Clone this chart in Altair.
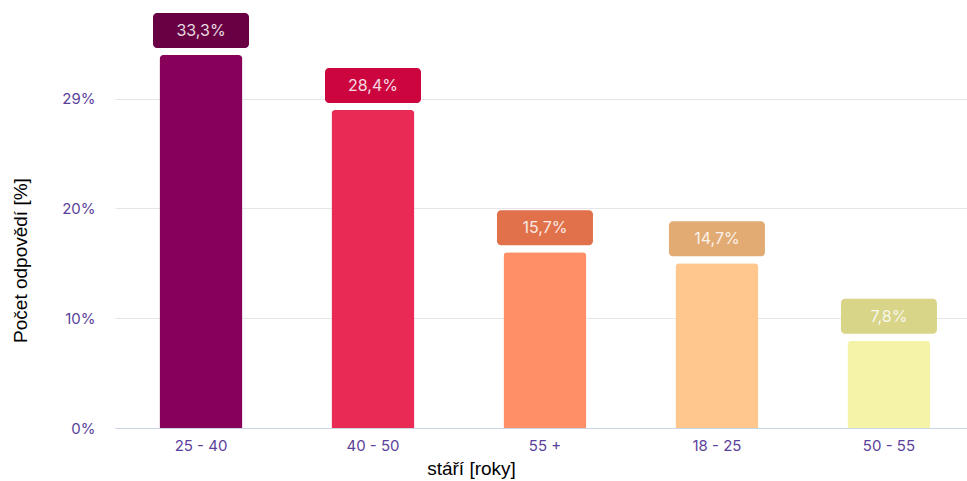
import altair as alt
import pandas as pd

categories = ["25 - 40", "40 - 50", "55 +", "18 - 25", "50 - 55"]
values = [33.3, 28.4, 15.7, 14.7, 7.8]
labels = ["33,3%", "28,4%", "15,7%", "14,7%", "7,8%"]
bar_colors = ["#87005a", "#e92a55", "#ff8f66", "#ffc78e", "#f5f3a7"]
box_colors = ["#680043", "#cc053f", "#e0714a", "#e2ab73", "#d8d488"]
y_ticks = [0, 9.8, 19.6, 29.4]

df = pd.DataFrame({
    "cat": categories,
    "val": values,
    "label": labels,
    "bar_color": bar_colors,
    "box_color": box_colors,
})

font = "Inter"
ymax = 418 / 11.2

x_enc = alt.X(
    "cat:N",
    sort=categories,
    scale=alt.Scale(paddingInner=0.517, paddingOuter=0.2355, align=0.549),
    axis=alt.Axis(
        title="stáří [roky]",
        labelAngle=0,
        labelColor="#5b3f9b",
        labelFont=font,
        labelFontSize=15,
        labelPadding=10,
        domainColor="#ccd6eb",
        ticks=False,
        grid=False,
        titleFont="Liberation Sans",
        titleFontSize=19,
        titleFontWeight="normal",
        titleColor="#000000",
        titleX=356,
        titleY=40,
        titleBaseline="middle",
        titleAlign="center",
    ),
)

y_scale = alt.Scale(domain=[0, ymax], nice=False, zero=True)

base = alt.Chart(df)

bars = base.mark_bar(cornerRadiusTopLeft=4, cornerRadiusTopRight=4, size=83).encode(
    x=x_enc,
    y=alt.Y(
        "val:Q",
        scale=y_scale,
        axis=alt.Axis(
            values=y_ticks,
            labelExpr="round(datum.value) + '%'",
            labelColor="#5b3f9b",
            labelFont=font,
            labelFontSize=15,
            labelPadding=20,
            gridColor="#e6e6e6",
            domain=False,
            ticks=False,
            title="Počet odpovědí [%]",
            titleFont="Liberation Sans",
            titleFontSize=19,
            titleFontWeight="normal",
            titleColor="#000000",
            titleAngle=-90,
            titleX=-95,
            titleY=250,
            titleAlign="center",
            titleBaseline="middle",
        ),
    ),
    color=alt.Color("bar_color:N", scale=None),
)

boxes = base.mark_bar(size=96, cornerRadius=4, yOffset=-42, y2Offset=-7).encode(
    x=alt.X("cat:N", sort=categories),
    y=alt.Y("val:Q", scale=y_scale),
    y2="val:Q",
    color=alt.Color("box_color:N", scale=None),
)

texts = base.mark_text(
    dy=-24, font=font, fontSize=16, color="#ffffff", opacity=0.85, baseline="middle"
).encode(
    x=alt.X("cat:N", sort=categories),
    y=alt.Y("val:Q", scale=y_scale),
    text="label:N",
)

chart = (
    alt.layer(bars, boxes, texts)
    .properties(
        width=852,
        height=418,
        padding={"left": 115, "top": 10, "right": 0, "bottom": 53},
        autosize=alt.AutoSizeParams(type="none"),
        background="white",
    )
    .configure_view(stroke=None)
)

chart.save("out.html", embed_options={"renderer": "svg", "actions": False})
